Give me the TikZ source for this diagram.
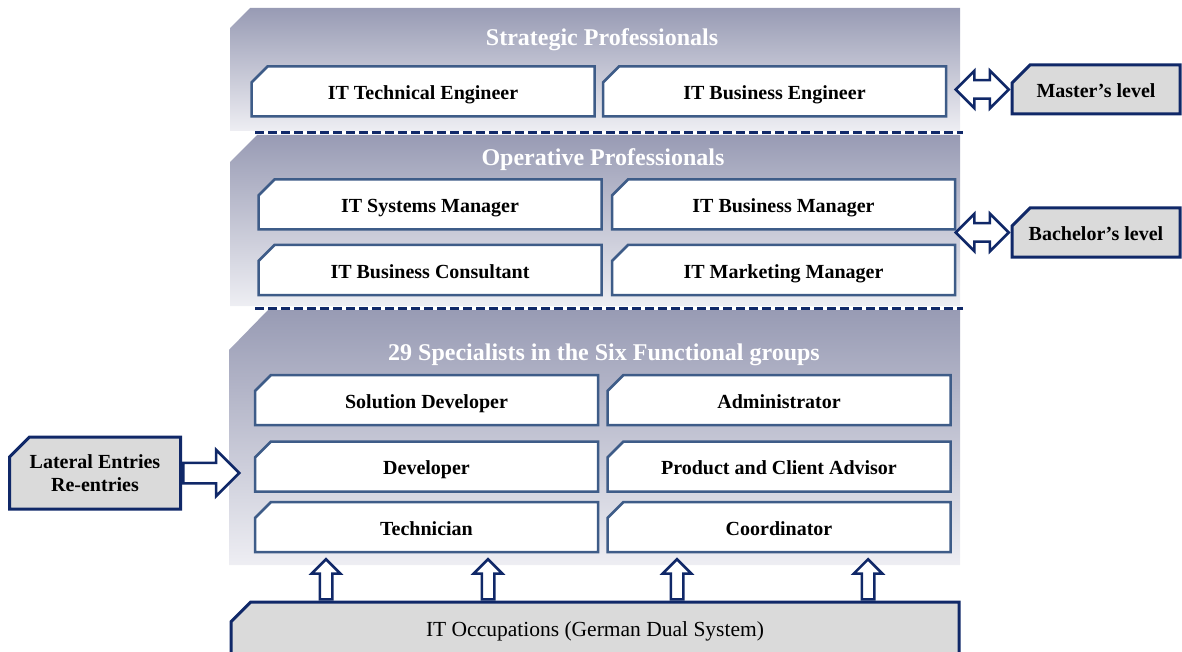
\documentclass[tikz,border=0pt]{standalone}
\usepackage{fontspec}
\setmainfont{Liberation Serif}
\usetikzlibrary{shapes.misc, shapes.arrows, positioning, calc}

\definecolor{navy}{RGB}{16,40,104}
\definecolor{steel}{RGB}{62,92,136}
\definecolor{paneltop}{RGB}{152,155,180}
\definecolor{panelbot}{RGB}{238,238,243}
\definecolor{levelgray}{RGB}{218,218,218}

\begin{document}
\begin{tikzpicture}[
        x=1pt, y=-1pt,
        snip/.style={chamfered rectangle, chamfered rectangle corners=north west, chamfered rectangle angle=45, inner sep=0pt},
        panel/.style={top color=paneltop, bottom color=panelbot, draw=none},
        title/.style={text=white, font=\fontsize{24}{27}\selectfont\bfseries},
        job/.style={snip, chamfered rectangle sep=8pt, draw=steel, line width=2.5pt, fill=white, minimum width=343pt, minimum height=50pt, text height=16pt, text depth=0pt, font=\fontsize{20}{23}\selectfont\bfseries},
        level/.style={snip, chamfered rectangle sep=10pt, draw=navy, line width=3pt, fill=levelgray, minimum height=49pt, align=center, font=\fontsize{20}{23}\selectfont\bfseries},
        hollow/.style={draw=navy, line width=2.5pt, fill=white},
        uparrow/.style={hollow, single arrow, shape border rotate=90, minimum height=40pt, inner sep=5pt, single arrow head extend=8pt},
        rarrow/.style={hollow, single arrow, minimum height=56pt, inner sep=9pt, single arrow head extend=13pt},
        dblarrow/.style={hollow, double arrow, minimum height=53pt, inner sep=8pt, double arrow head extend=9.5pt},
        divider/.style={draw=navy, line width=3pt, dash pattern=on 9pt off 4pt}
    ]
        \useasboundingbox (0,0) rectangle (1182,652);

        % the three layers
        \shade[panel] (250,8) -- (960,8) -- (960,131) -- (230,131) -- (230,28) -- cycle;
        \shade[panel] (257,135) -- (960,135) -- (960,306) -- (230,306) -- (230,162) -- cycle;
        \shade[panel] (268,310) -- (960,310) -- (960,565) -- (229,565) -- (229,350) -- cycle;
        \draw[divider] (255,133) -- (963,133);
        \draw[divider] (255,308) -- (963,308);

        \node[title] (strattitle) at (602,40) {Strategic Professionals};
        \node[title] (opertitle) at (603,160) {Operative Professionals};
        \node[title] (spectitle) at (604,355) {29 Specialists in the Six Functional groups};

        \node[job] (te) at (423,91.5) {IT Technical Engineer};
        \node[job, right=6pt of te] (be) {IT Business Engineer};

        \node[job] (sm) at (430,204.5) {IT Systems Manager};
        \node[job, right=8pt of sm] (bm) {IT Business Manager};
        \node[job, below=13pt of sm] (bc) {IT Business Consultant};
        \node[job, right=8pt of bc] (mm) {IT Marketing Manager};

        \node[job] (sd) at (426.5,400) {Solution Developer};
        \node[job, right=7pt of sd] (adm) {Administrator};
        \node[job, below=14pt of sd] (dev) {Developer};
        \node[job, right=7pt of dev] (pca) {Product and Client Advisor};
        \node[job, below=8pt of dev] (tech) {Technician};
        \node[job, right=7pt of tech] (coord) {Coordinator};

        % entry and exit levels
        \node[level, minimum width=168pt, text height=16pt, text depth=0pt] (master) at (1096,89.5) {Master's level};
        \node[level, minimum width=168pt, text height=16pt, text depth=0pt] (bachelor) at (1096,232.5) {Bachelor's level};
        \node[level, minimum width=171pt, minimum height=72pt] (lateral) at (95,473) {Lateral Entries\\Re-entries};
        \node[level, minimum width=728pt, minimum height=58pt, font=\fontsize{21.5}{24}\selectfont] (occ) at (595,631) {IT Occupations (German Dual System)};

        \node[dblarrow, left=0pt of master] (masterarr) {};
        \node[dblarrow, left=0pt of bachelor] (bachelorarr) {};
        \node[rarrow, anchor=tail] (lateralarr) at (lateral.east) {};
        \foreach \x/\n in {326/a, 488/b, 677/c, 868/d}
            \node[uparrow, anchor=tail] (up\n) at (occ.north -| \x,0) {};
    \end{tikzpicture}
\end{document}
